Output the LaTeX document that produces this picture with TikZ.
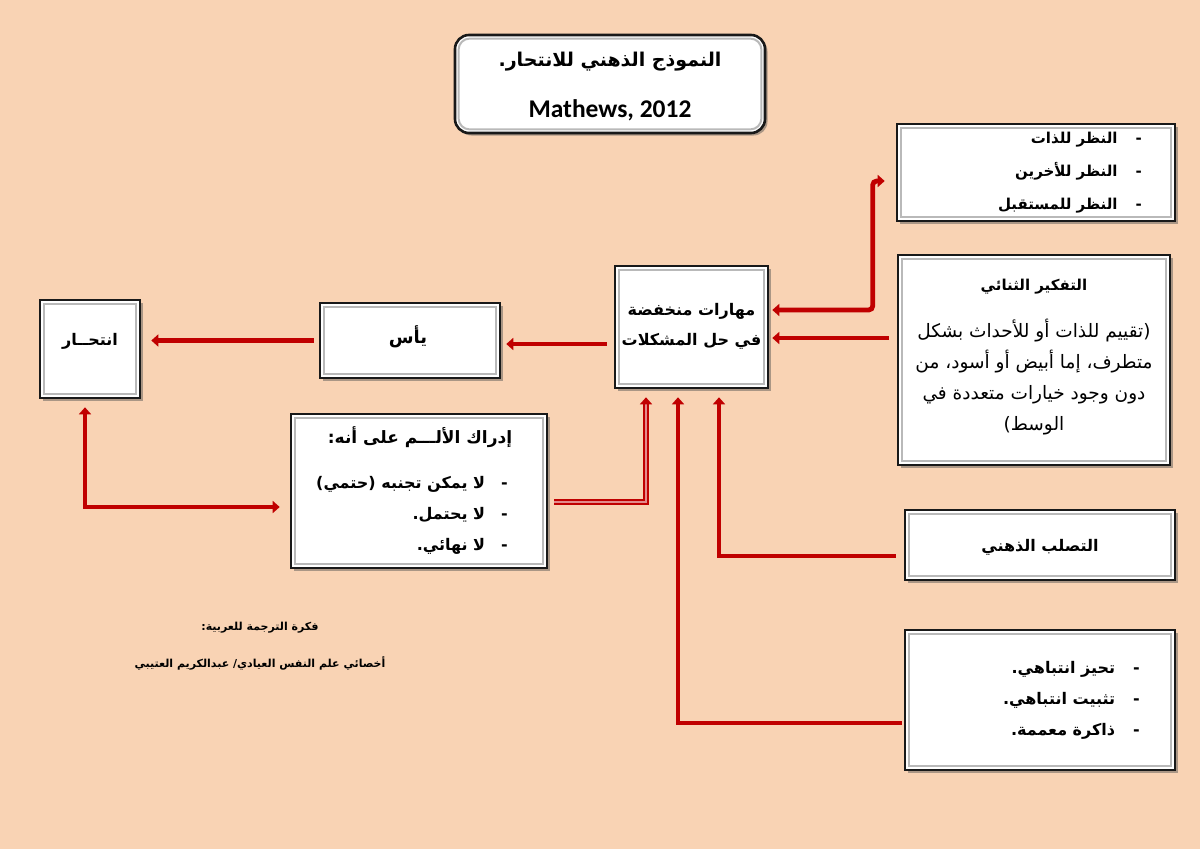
\documentclass[tikz,border=0pt]{standalone}
\usepackage{fontspec}
\usetikzlibrary{arrows.meta,calc,shadows}
\TeXXeTstate=1
\newfontfamily\arfont[Script=Arabic]{DejaVu Sans}
\newfontfamily\calfont{Carlito}
\definecolor{bg}{HTML}{F9D3B4}
\definecolor{arrowred}{HTML}{C00000}
\newcommand{\AR}[1]{\beginR #1\endR}
\begin{document}
\begin{tikzpicture}[x=1pt,y=-1pt,
  box/.style={draw=black!90, line width=2.6pt, fill=white, inner sep=0pt,
    drop shadow={shadow xshift=2.5pt,shadow yshift=-2.5pt,opacity=0.45,fill=black!70},
    path picture={\draw[gray!55,line width=2pt]
      ([shift={(3.6pt,-3.6pt)}]path picture bounding box.north west) rectangle
      ([shift={(-3.6pt,3.6pt)}]path picture bounding box.south east);}},
  titlebox/.style={draw=black!90, line width=2.6pt, fill=white, inner sep=0pt, rounded corners=14pt,
    drop shadow={shadow xshift=2.5pt,shadow yshift=-2.5pt,opacity=0.45,fill=black!70},
    path picture={\draw[gray!55,line width=2pt,rounded corners=11pt]
      ([shift={(3.6pt,-3.6pt)}]path picture bounding box.north west) rectangle
      ([shift={(-3.6pt,3.6pt)}]path picture bounding box.south east);}},
  txt/.style={inner sep=0pt, font=\arfont\bfseries\fontsize{16}{31}\selectfont},
  ptxt/.style={inner sep=0pt, font=\arfont\fontsize{18.5}{31}\selectfont},
  arr/.style={draw=arrowred, line width=4.8pt, -{Triangle[width=12pt,length=7pt]}},
  arrboth/.style={draw=arrowred, line width=4.8pt, {Triangle[width=12pt,length=7pt]}-{Triangle[width=12pt,length=7pt]}},
  dblarr/.style={draw=arrowred, line width=1.8pt, double=arrowred!45!white, double distance=2.2pt, -{Triangle[width=12pt,length=7pt]}}
]
\fill[bg] (0,0) rectangle (1200,849);
\useasboundingbox (0,0) rectangle (1200,849);

% boxes
\node[titlebox, minimum width=310pt, minimum height=98pt] (title) at (610,84) {};
\node[box, minimum width=278pt, minimum height=97pt] (view) at (1036,172.5) {};
\node[box, minimum width=272pt, minimum height=210pt] (think) at (1034,360) {};
\node[box, minimum width=153pt, minimum height=122pt] (central) at (691.5,327) {};
\node[box, minimum width=180pt, minimum height=75pt] (yas) at (410,340.5) {};
\node[box, minimum width=100pt, minimum height=98pt] (suicide) at (90,349) {};
\node[box, minimum width=256pt, minimum height=154pt] (percep) at (419,491) {};
\node[box, minimum width=270pt, minimum height=70pt] (rigid) at (1040,545) {};
\node[box, minimum width=270pt, minimum height=140pt] (attn) at (1040,700) {};

% texts
\node[txt, font=\arfont\bfseries\fontsize{19}{24}\selectfont] (t1) at (610,62) {\AR{النموذج الذهني للانتحار.}};
\node[inner sep=0pt, font=\calfont\bfseries\fontsize{25.5}{30}\selectfont] (t2) at (610,110) {Mathews, 2012};

\node[txt, align=right, anchor=east, font=\arfont\bfseries\fontsize{15}{33}\selectfont] (vt) at (1142,173)
  {\AR{-\hspace{18pt}النظر للذات}\\ \AR{-\hspace{18pt}النظر للأخرين}\\ \AR{-\hspace{18pt}النظر للمستقبل}};

\node[txt, font=\arfont\bfseries\fontsize{15}{20}\selectfont] (tht) at (1034,287) {\AR{التفكير الثنائي}};
\node[ptxt, align=center] (thb) at (1034,377)
  {\AR{(تقييم للذات أو للأحداث بشكل}\\ \AR{متطرف، إما أبيض أو أسود، من}\\ \AR{دون وجود خيارات متعددة في}\\ \AR{الوسط)}};

\node[txt, align=center, font=\arfont\bfseries\fontsize{16}{30}\selectfont] (ct) at (691.5,326)
  {\AR{مهارات منخفضة}\\ \AR{في حل المشكلات}};
\node[txt, font=\arfont\bfseries\fontsize{18}{22}\selectfont] (yt) at (408,337) {\AR{يأس}};
\node[txt] (st) at (90,341) {\AR{انتحــار}};

\node[txt, font=\arfont\bfseries\fontsize{17}{22}\selectfont] (pt) at (420,437) {\AR{إدراك الألـــم على أنه:}};
\node[txt, align=right, anchor=east] (pl) at (508,515)
  {\AR{-\hspace{16pt}لا يمكن تجنبه (حتمي)}\\ \AR{-\hspace{16pt}لا يحتمل.}\\ \AR{-\hspace{16pt}لا نهائي.}};

\node[txt] (rt) at (1040,547) {\AR{التصلب الذهني}};
\node[txt, align=right, anchor=east] (at) at (1140,700)
  {\AR{-\hspace{18pt}تحيز انتباهي.}\\ \AR{-\hspace{18pt}تثبيت انتباهي.}\\ \AR{-\hspace{18pt}ذاكرة معممة.}};

\node[txt, font=\arfont\bfseries\fontsize{11}{14}\selectfont] (c1) at (260,628) {\AR{فكرة الترجمة للعربية:}};
\node[txt, font=\arfont\bfseries\fontsize{11}{14}\selectfont] (c2) at (260,663) {\AR{أخصائي علم النفس العيادي/ عبدالكريم العتيبي}};

% connectors
\draw[arr] ([xshift=-5pt]yas.west) -- ([xshift=10pt]suicide.east |- yas.west);
\draw[arr] ($(central.west)+(-7,17)$) coordinate (a2) -- ([xshift=5pt]yas.east |- a2);
\draw[arr] ($(think.west)+(-8,-22)$) coordinate (a3) -- ([xshift=3pt]central.east |- a3);
\coordinate (vB) at ($(view.west)+(-11,8.5)$);
\coordinate (vA) at ($(vB)+(-12,0)$);
\draw[arrboth, rounded corners=4pt] ($(central.east)+(3,-17)$) -| (vA) -- (vB);
\draw[arrboth] ($(suicide.south)+(-5,8)$) |- ($(percep.west)+(-10,16)$);
\draw[dblarr] ($(percep.east)+(6,11)$) -| ($(central.south)+(-45.5,8)$);
\draw[arr] ($(rigid.west)+(-8,11)$) -| ($(central.south)+(27.5,8)$);
\draw[arr] ($(attn.west)+(-2,23)$) -| ($(central.south)+(-13.5,8)$);
\end{tikzpicture}
\end{document}
